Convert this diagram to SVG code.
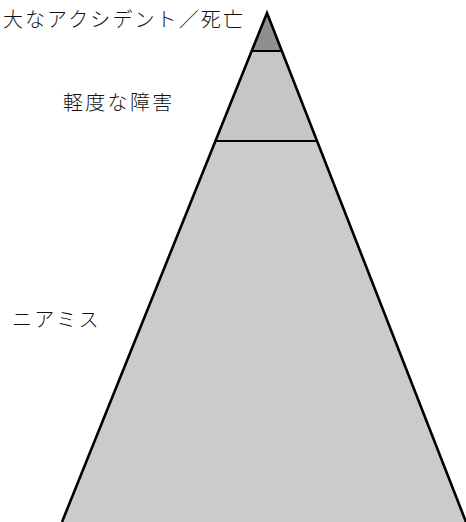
<svg xmlns="http://www.w3.org/2000/svg" width="466" height="522" viewBox="0 0 466 522">
<style>
.lbl{font-family:"Noto Sans CJK JP","Noto Sans",sans-serif;font-size:20px;font-weight:300;letter-spacing:2.3px;fill:#111}
.edge{stroke:#000;stroke-width:2.6;fill:none}
.div{stroke:#000;stroke-width:2}
</style>
<rect width="466" height="522" fill="#fff"/>
<g id="tier-bottom">
<polygon points="216,141 318,141 466,522 62,522" fill="#cbcbcb"/>
<text class="lbl" x="12" y="327">ニアミス</text>
</g>
<g id="tier-middle">
<polygon points="252,51 281,51 318,141 216,141" fill="#c6c6c6"/>
<text class="lbl" x="63" y="110">軽度な障害</text>
</g>
<g id="tier-top">
<polygon points="267,13 252,51 281,51" fill="#8f8f8f"/>
<text class="lbl" x="245" y="27" text-anchor="end" style="letter-spacing:2.1px">大なアクシデント／死亡</text>
</g>
<g id="connectors">
<line class="div" x1="252" y1="51" x2="281" y2="51"/>
<line class="div" x1="216" y1="141" x2="318" y2="141"/>
<polyline class="edge" points="62,522 267,13 466,522"/>
</g>
</svg>
